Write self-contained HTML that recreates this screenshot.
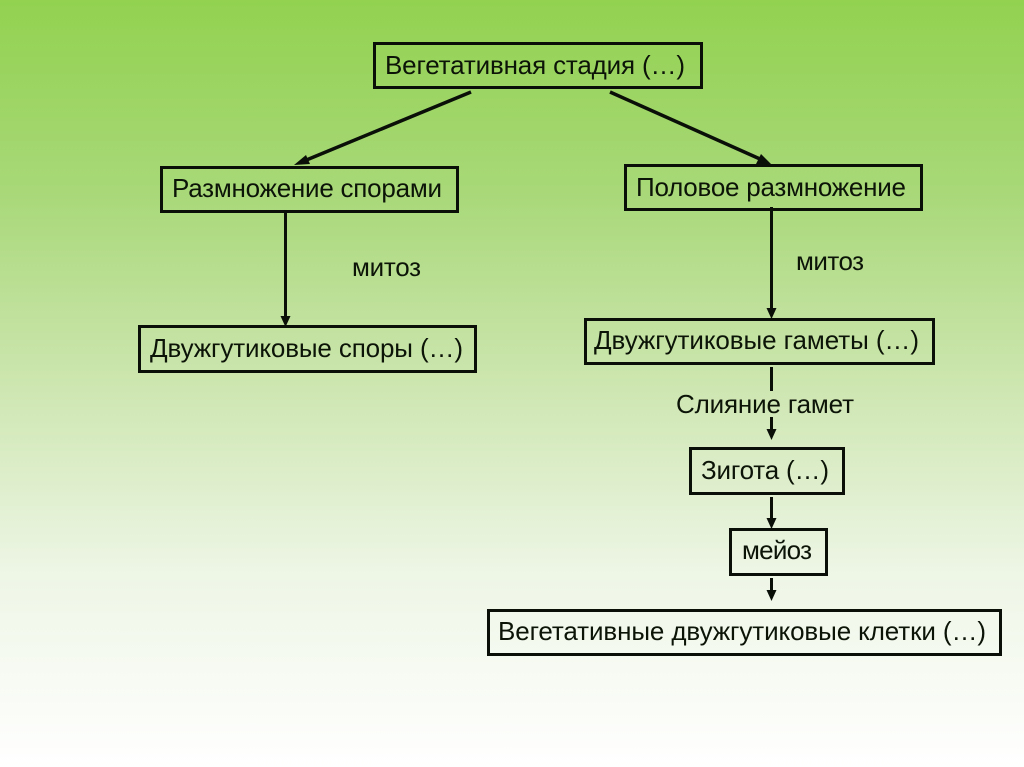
<!DOCTYPE html>
<html>
<head>
<meta charset="utf-8">
<style>
html,body{margin:0;padding:0;width:1024px;height:767px;overflow:hidden;background:#fff}
svg{display:block}
text{font-family:"Liberation Sans",sans-serif;font-size:26px;fill:#0c1408}
rect{fill:none;stroke:#0a0f08;stroke-width:3}
line{stroke:#0a0f08;stroke-width:3}
polygon{fill:#0a0f08}
</style>
</head>
<body>
<svg width="1024" height="767" viewBox="0 0 1024 767" xmlns="http://www.w3.org/2000/svg">
<defs>
<linearGradient id="bg" x1="0" y1="0" x2="0" y2="1">
<stop offset="0" stop-color="#92d250"/>
<stop offset="0.25" stop-color="#a8d878"/>
<stop offset="0.5" stop-color="#cde6b0"/>
<stop offset="0.75" stop-color="#eef6e6"/>
<stop offset="1" stop-color="#ffffff"/>
</linearGradient>
</defs>
<rect x="0" y="0" width="1024" height="767" style="fill:url(#bg);stroke:none"/>

<rect x="374.5" y="43.5" width="327" height="44"/>
<rect x="161.5" y="167.5" width="296" height="44"/>
<rect x="625.5" y="165.5" width="296" height="44"/>
<rect x="139.5" y="326.5" width="336" height="45"/>
<rect x="585.5" y="319.5" width="348" height="44"/>
<rect x="690.5" y="448.5" width="153" height="45"/>
<rect x="730.5" y="529.5" width="96" height="45"/>
<rect x="488.5" y="610.5" width="512" height="44"/>

<line x1="471" y1="92" x2="304" y2="161" style="stroke-width:3.5"/>
<polygon points="294,165 306,155 310,164"/>
<line x1="610" y1="92" x2="760" y2="159" style="stroke-width:3.5"/>
<polygon points="771,164 756,164 761,154"/>
<line x1="285.5" y1="212" x2="285.5" y2="318"/>
<polygon points="285.5,327 280.5,316 290.5,316"/>
<line x1="771.5" y1="207" x2="771.5" y2="310"/>
<polygon points="771.5,319 766.5,308 776.5,308"/>
<line x1="771.5" y1="367" x2="771.5" y2="391"/>
<line x1="771.5" y1="417" x2="771.5" y2="431"/>
<polygon points="771.5,440 766.5,429 776.5,429"/>
<line x1="771.5" y1="497" x2="771.5" y2="520"/>
<polygon points="771.5,529 766.5,518 776.5,518"/>
<line x1="771.5" y1="578" x2="771.5" y2="592"/>
<polygon points="771.5,601 766.5,590 776.5,590"/>

<text x="385" y="74" textLength="300" lengthAdjust="spacing">Вегетативная стадия (…)</text>
<text x="172" y="197" textLength="270" lengthAdjust="spacing">Размножение спорами</text>
<text x="636" y="196" textLength="270" lengthAdjust="spacing">Половое размножение</text>
<text x="352" y="276" textLength="69" lengthAdjust="spacing">митоз</text>
<text x="796" y="270" textLength="68" lengthAdjust="spacing">митоз</text>
<text x="150" y="357" textLength="313" lengthAdjust="spacing">Двужгутиковые споры (…)</text>
<text x="594" y="349" textLength="325" lengthAdjust="spacing">Двужгутиковые гаметы (…)</text>
<text x="676" y="413" textLength="178" lengthAdjust="spacing">Слияние гамет</text>
<text x="701" y="479" textLength="128" lengthAdjust="spacing">Зигота (…)</text>
<text x="742" y="559" textLength="70" lengthAdjust="spacing">мейоз</text>
<text x="498" y="640" textLength="488" lengthAdjust="spacing">Вегетативные двужгутиковые клетки (…)</text>
</svg>
</body>
</html>
